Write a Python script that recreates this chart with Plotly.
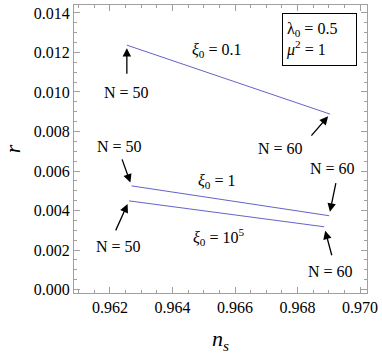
import plotly.graph_objects as go

# ---- data ----
ns_xi01 = [0.96254, 0.96904]
r_xi01 = [0.01237, 0.00888]
ns_xi1 = [0.96269, 0.96901]
r_xi1 = [0.00525, 0.00374]
ns_xi1e5 = [0.96261, 0.96885]
r_xi1e5 = [0.00449, 0.00318]

x_tickvals = [0.962, 0.964, 0.966, 0.968, 0.970]
x_ticktext = ["0.962", "0.964", "0.966", "0.968", "0.970"]
y_tickvals = [0.000, 0.002, 0.004, 0.006, 0.008, 0.010, 0.012, 0.014]
y_ticktext = ["0.000", "0.002", "0.004", "0.006", "0.008", "0.010", "0.012", "0.014"]

labels_xi = ["<i>ξ</i><sub>0</sub> = 0.1", "<i>ξ</i><sub>0</sub> = 1", "<i>ξ</i><sub>0</sub> = 10<sup>5</sup>"]
label_N50 = "N = 50"
label_N60 = "N = 60"
box_text = "λ<sub>0</sub> = 0.5<br><i>μ</i><sup>2</sup> = 1"

FONT = "Liberation Serif, Times New Roman, DejaVu Serif, serif"
LINE_COLOR = "#6464c8"
FRAME = "#a0a0a0"

series = [(ns_xi01, r_xi01), (ns_xi1, r_xi1), (ns_xi1e5, r_xi1e5)]

fig = go.Figure()
for xs, ys in series:
    fig.add_trace(go.Scatter(x=xs, y=ys, mode="lines",
                             line=dict(color=LINE_COLOR, width=1),
                             showlegend=False, hoverinfo="skip"))

annotations = []

# arrow annotations: (point x, point y, tail dx, tail dy, standoff, text dx, text dy, text)
arrow_specs = [
    (ns_xi01[0], r_xi01[0], 0, 30, 3, 0, 47, label_N50),
    (ns_xi1[0], r_xi1[0], -10, -28, 3.5, -12, -39, label_N50),
    (ns_xi1e5[0], r_xi1e5[0], -14, 31, 3.5, -11, 46, label_N50),
    (ns_xi01[1], r_xi01[1], -20, 23, 3, -50, 34, label_N60),
    (ns_xi1[1], r_xi1[1], 7, -34, 4, 3, -47, label_N60),
    (ns_xi1e5[1], r_xi1e5[1], 8, 30, 4, 6, 45, label_N60),
]
for px, py, adx, ady, so, tdx, tdy, txt in arrow_specs:
    annotations.append(dict(x=px, y=py, xref="x", yref="y", text="",
                            showarrow=True, ax=adx, ay=ady,
                            arrowhead=2, arrowsize=1.3, arrowwidth=1.3,
                            arrowcolor="black", standoff=so))
    annotations.append(dict(x=px, y=py, xref="x", yref="y", text=txt,
                            showarrow=False, xshift=tdx, yshift=-tdy,
                            font=dict(family=FONT, size=16, color="black")))

# xi labels relative to line midpoints
xi_offsets = [(-12, -29), (-14, -19), (-8, 23)]
for (xs, ys), lab, (dx, dy) in zip(series, labels_xi, xi_offsets):
    annotations.append(dict(x=(xs[0] + xs[1]) / 2, y=(ys[0] + ys[1]) / 2,
                            xref="x", yref="y", text=lab, showarrow=False,
                            xshift=dx, yshift=-dy,
                            font=dict(family=FONT, size=16, color="black")))

# parameter box
annotations.append(dict(x=0.837, y=0.88, xref="paper", yref="paper",
                        text=box_text, showarrow=False, align="left", valign="middle",
                        xanchor="center", yanchor="middle",
                        bordercolor="black", borderwidth=1, borderpad=3,
                        width=67, height=45, bgcolor="white",
                        font=dict(family=FONT, size=16, color="black")))

axis_common = dict(showline=True, linecolor=FRAME, linewidth=1, mirror="ticks",
                   ticks="inside", ticklen=6, tickcolor=FRAME, tickwidth=1,
                   showgrid=False, zeroline=False, automargin=False,
                   tickfont=dict(family=FONT, size=16, color="black"))

fig.update_layout(
    width=382, height=354,
    margin=dict(l=74, r=15, t=5, b=61),
    paper_bgcolor="white", plot_bgcolor="white",
    font=dict(family=FONT),
    xaxis=dict(range=[0.96085, 0.97022], tickvals=x_tickvals, ticktext=x_ticktext,
               minor=dict(dtick=0.0005, tick0=0.962, ticks="inside", ticklen=3,
                          tickcolor=FRAME, showgrid=False),
               title=dict(text="<i>n<sub>s</sub></i>", font=dict(family=FONT, size=22, color="black"),
                          standoff=16),
               **axis_common),
    yaxis=dict(range=[-0.00017, 0.0144], tickvals=y_tickvals, ticktext=y_ticktext,
               minor=dict(dtick=0.0005, tick0=0, ticks="inside", ticklen=3,
                          tickcolor=FRAME, showgrid=False),
               title=dict(text="<i>r</i>", font=dict(family=FONT, size=22, color="black"),
                          standoff=12),
               **axis_common),
    annotations=annotations,
)

fig.write_html("out.html", config={"displayModeBar": False},
               post_script="document.body.style.margin='0';document.body.style.overflow='hidden';")
